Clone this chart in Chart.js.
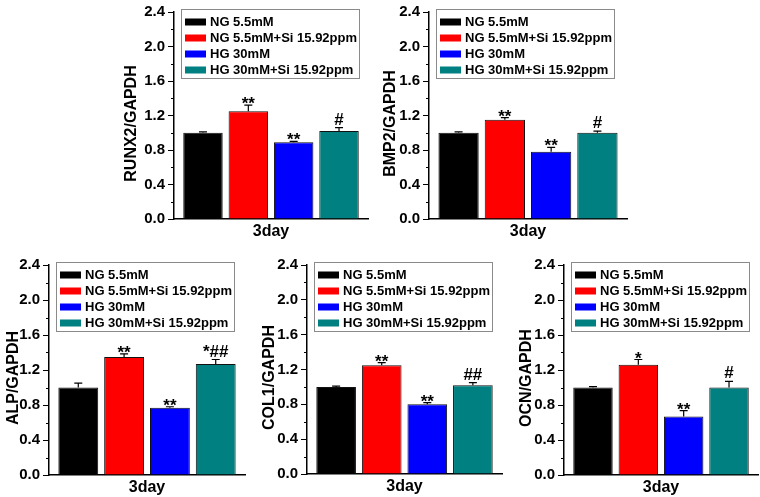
<!DOCTYPE html>
<html><head><meta charset="utf-8">
<script src="https://cdn.jsdelivr.net/npm/chart.js@4/dist/chart.umd.min.js"></script>
<style>
html,body{margin:0;padding:0;background:#fff;}
#wrap{position:relative;width:760px;height:497px;background:#fff;overflow:hidden;}
#wrap canvas{position:absolute;}
</style></head><body><div id="wrap"></div>
<script>
// ---- data ----
const groups = ['NG 5.5mM', 'NG 5.5mM+Si 15.92ppm', 'HG 30mM', 'HG 30mM+Si 15.92ppm'];
const xLabels = ['3day'];
const yTickLabels = ['0.0', '0.4', '0.8', '1.2', '1.6', '2.0', '2.4'];

const runx2 = [1.00, 1.25, 0.89, 1.02];
const runx2Err = [0.01, 0.07, 0.01, 0.04];
const runx2Marks = ['', '**', '**', '#'];

const bmp2 = [1.00, 1.15, 0.78, 1.00];
const bmp2Err = [0.01, 0.025, 0.05, 0.02];
const bmp2Marks = ['', '**', '**', '#'];

const alp = [1.00, 1.35, 0.77, 1.27];
const alpErr = [0.05, 0.035, 0.01, 0.05];
const alpMarks = ['', '**', '**', '*##'];

const col1 = [1.00, 1.25, 0.80, 1.02];
const col1Err = [0.01, 0.03, 0.02, 0.03];
const col1Marks = ['', '**', '**', '##'];

const ocn = [1.00, 1.26, 0.67, 1.00];
const ocnErr = [0.01, 0.06, 0.065, 0.07];
const ocnMarks = ['', '*', '**', '#'];

// ---- styles / layout ----
const groupColors = ['#000000', '#ff0000', '#0000ff', '#008080'];
const FONT = '"Liberation Sans", Arial, sans-serif';

const panels = [
  {title: 'RUNX2/GAPDH', values: runx2, errs: runx2Err, marks: runx2Marks,
   left: 120, top: 0, width: 252, height: 250, axisW: 54, padRight: 4, padTop: 12, xH: 31},
  {title: 'BMP2/GAPDH', values: bmp2, errs: bmp2Err, marks: bmp2Marks,
   left: 379, top: 0, width: 252, height: 250, axisW: 50, padRight: 4, padTop: 12, xH: 31},
  {title: 'ALP/GAPDH', values: alp, errs: alpErr, marks: alpMarks,
   left: 2, top: 250, width: 247, height: 247, axisW: 47, padRight: 4, padTop: 15, xH: 22},
  {title: 'COL1/GAPDH', values: col1, errs: col1Err, marks: col1Marks,
   left: 258, top: 250, width: 248, height: 247, axisW: 49, padRight: 4, padTop: 15, xH: 23},
  {title: 'OCN/GAPDH', values: ocn, errs: ocnErr, marks: ocnMarks,
   left: 515, top: 250, width: 245, height: 247, axisW: 49, padRight: 2, padTop: 15, xH: 22}
];

function isMajor(v) { return Math.round(v * 10) % 4 === 0; }

const errPlugin = {
  id: 'errbars',
  afterDatasetsDraw(chart, args, opts) {
    const ctx = chart.ctx;
    const y = chart.scales.y;
    ctx.save();
    chart.data.datasets.forEach((ds, i) => {
      const bar = chart.getDatasetMeta(i).data[0];
      const v = ds.data[0];
      const e = opts.errs[i];
      const yTop = y.getPixelForValue(v + e);
      const yVal = y.getPixelForValue(v);
      ctx.strokeStyle = '#000';
      ctx.lineWidth = 1.2;
      ctx.beginPath();
      ctx.moveTo(bar.x, yVal);
      ctx.lineTo(bar.x, yTop);
      ctx.moveTo(bar.x - 4, yTop);
      ctx.lineTo(bar.x + 4, yTop);
      ctx.stroke();
      const m = opts.marks[i];
      if (m) {
        ctx.fillStyle = '#000';
        ctx.font = 'bold 17px ' + FONT;
        ctx.textAlign = 'center';
        ctx.textBaseline = 'alphabetic';
        const base = m.indexOf('#') >= 0 ? yTop - 3 : yTop + 4;
        ctx.fillText(m, bar.x, base);
      }
    });
    ctx.restore();
  }
};

const decorPlugin = {
  id: 'decor',
  afterDraw(chart, args, opts) {
    const ctx = chart.ctx;
    const a = chart.chartArea;
    const y = chart.scales.y;
    ctx.save();
    // minor ticks
    ctx.strokeStyle = '#000';
    ctx.lineWidth = 1;
    y.ticks.forEach(t => {
      if (!isMajor(t.value)) {
        const py = Math.round(y.getPixelForValue(t.value)) + 0.5;
        ctx.beginPath();
        ctx.moveTo(a.left - 3, py);
        ctx.lineTo(a.left, py);
        ctx.stroke();
      }
    });
    // y-axis title
    ctx.save();
    ctx.translate(12, (a.top + a.bottom) / 2 + 8);
    ctx.rotate(-Math.PI / 2);
    ctx.font = 'bold 16px ' + FONT;
    ctx.fillStyle = '#000';
    ctx.textAlign = 'center';
    ctx.textBaseline = 'middle';
    ctx.fillText(opts.title, 0, 0);
    ctx.restore();
    // legend box
    const bx = a.left + 7, by = a.top - 3, bw = 178, bh = 69;
    ctx.fillStyle = '#fff';
    ctx.fillRect(bx, by, bw, bh);
    ctx.strokeStyle = '#8a8a8a';
    ctx.strokeRect(bx + 0.5, by + 0.5, bw, bh);
    ctx.font = 'bold 13px ' + FONT;
    ctx.textBaseline = 'middle';
    ctx.textAlign = 'left';
    chart.data.datasets.forEach((ds, i) => {
      const cy = by + 13 + 16 * i;
      ctx.fillStyle = ds.backgroundColor;
      ctx.fillRect(bx + 4, cy - 3.5, 21, 7);
      ctx.fillStyle = '#000';
      ctx.fillText(ds.label, bx + 29, cy + 0.5);
    });
    ctx.restore();
  }
};

const wrap = document.getElementById('wrap');
panels.forEach(p => {
  const c = document.createElement('canvas');
  c.width = p.width; c.height = p.height;
  c.style.left = p.left + 'px'; c.style.top = p.top + 'px';
  c.style.width = p.width + 'px'; c.style.height = p.height + 'px';
  wrap.appendChild(c);
  new Chart(c, {
    type: 'bar',
    data: {
      labels: xLabels,
      datasets: groups.map((g, i) => ({
        label: g,
        data: [p.values[i]],
        backgroundColor: groupColors[i],
        borderColor: '#111',
        borderWidth: 1,
        barPercentage: 0.87,
        categoryPercentage: 0.935
      }))
    },
    options: {
      responsive: false,
      animation: false,
      devicePixelRatio: 1,
      layout: {padding: {top: p.padTop, right: p.padRight, left: 0, bottom: 0}},
      plugins: {
        legend: {display: false},
        tooltip: {enabled: false},
        errbars: {errs: p.errs, marks: p.marks},
        decor: {title: p.title}
      },
      scales: {
        x: {
          grid: {display: false, drawTicks: false},
          border: {display: true, color: '#000', width: 1.5},
          ticks: {color: '#000', font: {family: FONT, size: 16, weight: 'bold'}, padding: 3},
          afterFit(s) { s.height = p.xH; }
        },
        y: {
          min: 0, max: 2.4,
          grid: {display: true, drawOnChartArea: false, drawTicks: true, tickLength: 6,
                 color: '#000', lineWidth: 1,
                 tickColor: (c) => (c.tick && isMajor(c.tick.value)) ? '#000' : 'rgba(0,0,0,0)'},
          border: {display: true, color: '#000', width: 1.5},
          ticks: {
            stepSize: 0.2, autoSkip: false, color: '#000', padding: 3,
            font: {family: FONT, size: 15, weight: 'bold'},
            callback(v) {
              const k = Math.round(v * 10);
              if (k % 4 !== 0) return '';
              return yTickLabels[k / 4];
            }
          },
          title: {display: false},
          afterFit(s) { s.width = p.axisW; }
        }
      }
    },
    plugins: [errPlugin, decorPlugin]
  });
});
</script>
</body></html>
